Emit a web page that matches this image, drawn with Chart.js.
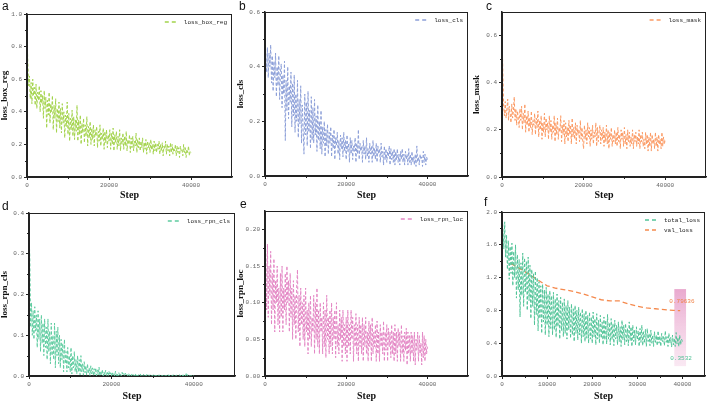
<!DOCTYPE html>
<html>
<head>
<meta charset="utf-8">
<script src="https://cdn.jsdelivr.net/npm/chart.js@4.4.1/dist/chart.umd.min.js"></script>
<style>
body { margin: 0; background: #fff; width: 709px; height: 401px; position: relative; overflow: hidden; }
canvas { position: absolute; }
.tag { position: absolute; font-family: 'Liberation Sans', Arial, sans-serif; font-size: 12px; color: #111; line-height: 1; }
</style>
</head>
<body>
<canvas id="cA" width="236" height="200" style="left:0;top:0"></canvas>
<canvas id="cB" width="236" height="200" style="left:236px;top:0"></canvas>
<canvas id="cC" width="237" height="200" style="left:472px;top:0"></canvas>
<canvas id="cD" width="236" height="201" style="left:0;top:200px"></canvas>
<canvas id="cE" width="236" height="201" style="left:236px;top:200px"></canvas>
<canvas id="cF" width="237" height="201" style="left:472px;top:200px"></canvas>
<div class="tag" style="left:2px;top:0">a</div>
<div class="tag" style="left:239px;top:0">b</div>
<div class="tag" style="left:486px;top:0">c</div>
<div class="tag" style="left:2px;top:200px">d</div>
<div class="tag" style="left:240px;top:198px">e</div>
<div class="tag" style="left:484px;top:196px">f</div>
<script>
// logged every 200 steps, step 0 .. 40000 (20 values per row = 4000 steps)
var STEP = 200;

var lossBoxReg = [
  0.88,0.70,0.56,0.62,0.48,0.58,0.45,0.60,0.50,0.55,0.44,0.57,0.42,0.52,0.47,0.56,0.40,0.53,0.45,0.50,
  0.36,0.53,0.42,0.49,0.30,0.47,0.38,0.52,0.33,0.45,0.40,0.50,0.29,0.44,0.36,0.48,0.27,0.42,0.34,0.46,
  0.30,0.42,0.27,0.45,0.33,0.40,0.24,0.38,0.31,0.46,0.26,0.39,0.22,0.36,0.29,0.41,0.25,0.37,0.23,0.35,
  0.28,0.44,0.22,0.35,0.26,0.38,0.20,0.33,0.27,0.36,0.21,0.32,0.25,0.37,0.19,0.31,0.24,0.34,0.20,0.30,
  0.23,0.32,0.19,0.29,0.25,0.31,0.18,0.28,0.22,0.32,0.19,0.27,0.23,0.30,0.17,0.28,0.21,0.29,0.18,0.26,
  0.22,0.29,0.17,0.27,0.20,0.30,0.16,0.26,0.21,0.28,0.17,0.25,0.19,0.29,0.16,0.24,0.20,0.27,0.17,0.25,
  0.19,0.28,0.16,0.23,0.20,0.26,0.15,0.24,0.18,0.25,0.16,0.22,0.19,0.27,0.15,0.23,0.18,0.24,0.16,0.22,
  0.18,0.24,0.15,0.21,0.17,0.23,0.14,0.22,0.18,0.21,0.15,0.23,0.17,0.20,0.14,0.22,0.16,0.21,0.15,0.20,
  0.17,0.22,0.14,0.20,0.16,0.21,0.13,0.19,0.17,0.22,0.14,0.20,0.16,0.19,0.13,0.21,0.15,0.20,0.14,0.18,
  0.16,0.20,0.13,0.19,0.15,0.18,0.12,0.19,0.16,0.17,0.13,0.20,0.15,0.18,0.12,0.17,0.15,0.19,0.13,0.16,
  0.15
];
var lossCls = [
  0.52,0.44,0.38,0.47,0.36,0.45,0.40,0.48,0.34,0.44,0.31,0.42,0.36,0.45,0.29,0.40,0.33,0.44,0.28,0.38,
  0.41,0.25,0.37,0.30,0.42,0.13,0.35,0.24,0.40,0.21,0.33,0.27,0.38,0.18,0.34,0.22,0.37,0.16,0.30,0.20,
  0.35,0.14,0.28,0.19,0.33,0.12,0.26,0.17,0.08,0.30,0.15,0.27,0.11,0.31,0.16,0.24,0.10,0.29,0.13,0.25,
  0.12,0.28,0.15,0.22,0.09,0.26,0.13,0.20,0.10,0.24,0.08,0.18,0.12,0.20,0.07,0.17,0.11,0.19,0.08,0.16,
  0.12,0.18,0.07,0.15,0.10,0.17,0.06,0.14,0.11,0.16,0.08,0.13,0.06,0.15,0.10,0.14,0.07,0.16,0.09,0.13,
  0.06,0.15,0.09,0.12,0.05,0.14,0.08,0.13,0.06,0.11,0.09,0.14,0.05,0.12,0.08,0.17,0.06,0.12,0.09,0.11,
  0.05,0.13,0.08,0.11,0.06,0.14,0.07,0.10,0.05,0.12,0.08,0.11,0.05,0.13,0.07,0.10,0.06,0.12,0.05,0.11,
  0.08,0.10,0.05,0.12,0.07,0.09,0.04,0.11,0.06,0.10,0.05,0.09,0.07,0.11,0.04,0.10,0.06,0.09,0.05,0.10,
  0.04,0.09,0.06,0.10,0.05,0.08,0.04,0.09,0.06,0.10,0.05,0.08,0.04,0.09,0.06,0.08,0.04,0.10,0.05,0.08,
  0.04,0.09,0.05,0.07,0.04,0.08,0.035,0.11,0.05,0.07,0.04,0.08,0.06,0.07,0.035,0.09,0.05,0.08,0.04,0.07,
  0.06
];
var lossMask = [
  0.63,0.45,0.30,0.26,0.32,0.25,0.29,0.33,0.24,0.30,0.27,0.23,0.31,0.25,0.28,0.34,0.24,0.29,0.22,0.28,
  0.25,0.21,0.29,0.24,0.30,0.20,0.27,0.23,0.31,0.19,0.26,0.22,0.28,0.19,0.25,0.21,0.28,0.18,0.24,0.22,
  0.27,0.18,0.25,0.21,0.28,0.17,0.24,0.20,0.26,0.16,0.23,0.19,0.27,0.17,0.25,0.20,0.23,0.16,0.26,0.19,
  0.24,0.16,0.22,0.19,0.26,0.15,0.23,0.18,0.25,0.16,0.21,0.19,0.26,0.15,0.22,0.18,0.24,0.14,0.23,0.17,
  0.21,0.15,0.24,0.18,0.22,0.14,0.25,0.17,0.21,0.16,0.23,0.14,0.22,0.18,0.20,0.15,0.24,0.16,0.21,0.15,
  0.12,0.22,0.16,0.20,0.14,0.23,0.17,0.21,0.13,0.20,0.16,0.22,0.14,0.19,0.17,0.23,0.13,0.21,0.15,0.19,
  0.22,0.14,0.20,0.16,0.21,0.13,0.19,0.15,0.22,0.14,0.20,0.12,0.19,0.16,0.21,0.13,0.18,0.15,0.20,0.14,
  0.19,0.13,0.21,0.15,0.18,0.12,0.20,0.16,0.19,0.13,0.21,0.14,0.18,0.12,0.20,0.15,0.19,0.13,0.17,0.14,
  0.20,0.12,0.18,0.15,0.19,0.13,0.17,0.14,0.20,0.12,0.18,0.15,0.19,0.13,0.16,0.12,0.19,0.14,0.18,0.11,
  0.17,0.13,0.19,0.11,0.18,0.14,0.16,0.12,0.19,0.13,0.17,0.11,0.18,0.14,0.16,0.12,0.19,0.13,0.17,0.14,
  0.16
];
var lossRpnCls = [
  0.35,0.29,0.12,0.18,0.10,0.16,0.09,0.17,0.11,0.15,0.07,0.16,0.09,0.14,0.06,0.15,0.08,0.13,0.05,0.14,
  0.07,0.12,0.04,0.14,0.06,0.11,0.03,0.13,0.05,0.10,0.04,0.13,0.02,0.11,0.05,0.12,0.03,0.10,0.02,0.09,
  0.04,0.08,0.01,0.09,0.03,0.06,0.01,0.07,0.02,0.05,0.01,0.07,0.005,0.05,0.02,0.06,0.01,0.04,0.005,0.05,
  0.01,0.04,0.003,0.05,0.01,0.03,0.002,0.035,0.008,0.025,0.002,0.03,0.006,0.02,0.001,0.025,0.005,0.02,0.001,0.018,
  0.004,0.02,0.001,0.015,0.003,0.022,0.0,0.012,0.002,0.016,0.0,0.01,0.003,0.014,0.001,0.009,0.0,0.012,0.002,0.008,
  0.0,0.01,0.002,0.007,0.0,0.012,0.001,0.006,0.0,0.008,0.001,0.005,0.0,0.009,0.002,0.006,0.0,0.007,0.001,0.004,
  0.0,0.006,0.001,0.004,0.0,0.005,0.0,0.003,0.001,0.006,0.0,0.004,0.0,0.003,0.001,0.005,0.0,0.002,0.0,0.004,
  0.001,0.003,0.0,0.004,0.0,0.002,0.001,0.003,0.0,0.002,0.0,0.004,0.001,0.002,0.0,0.003,0.0,0.002,0.001,0.003,
  0.0,0.002,0.0,0.003,0.001,0.002,0.0,0.002,0.0,0.003,0.0,0.002,0.001,0.002,0.0,0.003,0.0,0.001,0.0,0.002,
  0.0,0.002,0.001,0.003,0.0,0.002,0.0,0.003,0.0,0.002,0.0,0.008,0.001,0.003,0.0,0.002,0.0,0.001,0.0,0.002,
  0.001
];
var lossRpnLoc = [
  0.195,0.16,0.09,0.18,0.08,0.15,0.11,0.17,0.07,0.14,0.09,0.16,0.06,0.13,0.10,0.15,0.07,0.12,0.06,0.14,
  0.08,0.15,0.06,0.12,0.09,0.14,0.07,0.15,0.10,0.13,0.06,0.14,0.08,0.12,0.05,0.13,0.07,0.11,0.05,0.12,
  0.145,0.06,0.11,0.04,0.12,0.07,0.10,0.05,0.11,0.04,0.12,0.06,0.09,0.03,0.10,0.05,0.11,0.04,0.08,0.06,
  0.11,0.03,0.10,0.05,0.12,0.04,0.09,0.03,0.10,0.06,0.08,0.03,0.10,0.04,0.09,0.025,0.11,0.05,0.08,0.03,
  0.09,0.04,0.10,0.03,0.08,0.05,0.09,0.025,0.10,0.04,0.07,0.03,0.09,0.05,0.08,0.02,0.09,0.04,0.07,0.03,
  0.08,0.02,0.09,0.04,0.07,0.03,0.09,0.05,0.08,0.02,0.07,0.04,0.085,0.03,0.07,0.02,0.08,0.04,0.07,0.03,
  0.08,0.02,0.07,0.04,0.08,0.03,0.06,0.02,0.075,0.04,0.07,0.02,0.08,0.03,0.06,0.04,0.07,0.02,0.075,0.03,
  0.06,0.02,0.07,0.04,0.06,0.03,0.075,0.02,0.06,0.035,0.07,0.02,0.065,0.04,0.06,0.025,0.07,0.03,0.06,0.02,
  0.07,0.03,0.06,0.02,0.065,0.04,0.06,0.02,0.07,0.03,0.055,0.02,0.06,0.035,0.065,0.015,0.06,0.03,0.055,0.02,
  0.06,0.03,0.055,0.02,0.06,0.015,0.05,0.035,0.06,0.02,0.055,0.03,0.045,0.015,0.06,0.025,0.055,0.02,0.05,0.03,
  0.04
];
var totalLoss = [
  1.98,1.80,1.55,1.88,1.45,1.72,1.30,1.65,1.18,1.58,1.25,1.62,1.10,1.52,1.20,1.60,0.95,1.48,1.05,1.42,
  0.72,1.38,0.98,1.50,0.85,1.44,1.02,1.40,0.80,1.45,0.92,1.35,0.70,1.30,0.85,1.25,0.62,1.28,0.75,1.20,
  0.55,1.15,0.70,1.10,0.52,1.12,0.66,1.05,0.50,1.08,0.62,1.00,0.48,1.04,0.58,0.98,0.50,1.02,0.56,0.94,
  0.47,1.00,0.60,0.92,0.45,0.96,0.55,0.90,0.48,0.94,0.52,0.86,0.45,0.92,0.56,0.84,0.46,0.88,0.50,0.82,
  0.42,0.86,0.52,0.80,0.44,0.84,0.50,0.78,0.40,0.82,0.48,0.76,0.42,0.80,0.46,0.74,0.40,0.78,0.45,0.72,
  0.40,0.78,0.48,0.70,0.38,0.76,0.45,0.68,0.40,0.74,0.46,0.66,0.38,0.72,0.44,0.68,0.39,0.75,0.45,0.65,
  0.38,0.70,0.44,0.64,0.37,0.68,0.45,0.62,0.38,0.66,0.42,0.60,0.36,0.68,0.44,0.62,0.38,0.64,0.42,0.58,
  0.37,0.66,0.43,0.60,0.36,0.62,0.42,0.56,0.38,0.60,0.44,0.55,0.36,0.58,0.41,0.62,0.37,0.54,0.40,0.57,
  0.36,0.58,0.42,0.52,0.37,0.56,0.40,0.50,0.36,0.54,0.41,0.50,0.37,0.55,0.40,0.49,0.36,0.52,0.42,0.48,
  0.37,0.55,0.41,0.48,0.36,0.52,0.40,0.47,0.3532,0.50,0.38,0.46,0.36,0.53,0.39,0.47,0.36,0.50,0.38,0.45,
  0.42
];
var valSteps = [2000,4000,6000,8000,10000,12000,14000,16000,18000,20000,22000,24000,26000,28000,30000,32000,34000,36000,38000,39500];
var valLoss = [1.37,1.31,1.24,1.17,1.10,1.07,1.05,1.03,1.00,0.965,0.93,0.915,0.915,0.88,0.85,0.83,0.82,0.81,0.80,0.79636];

var xTicksWide = [0, 20000, 40000];
var xTicksF = [0, 10000, 20000, 30000, 40000];

var monoFont = "'Liberation Mono', 'DejaVu Sans Mono', monospace";
var serifFont = "'Liberation Serif', 'DejaVu Serif', serif";

function pts(vals) {
    return vals.map(function (v, i) { return { x: i * STEP, y: v }; });
}

// box frame, minor ticks and the little dashed legend
var framePlugin = {
    id: 'frame',
    afterDatasetsDraw: function (chart) {
        var ctx = chart.ctx, a = chart.chartArea;
        var xs = chart.scales.x, ys = chart.scales.y;
        ctx.save();
        ctx.strokeStyle = '#222';
        ctx.lineWidth = 1;
        ctx.setLineDash([]);
        ctx.strokeRect(a.left + 0.5, a.top + 0.5, a.right - a.left - 1, a.bottom - a.top);

        // minor ticks halfway between majors
        ctx.beginPath();
        for (var i = 0; i < xs.ticks.length - 1; i++) {
            var px = Math.round(xs.getPixelForValue((xs.ticks[i].value + xs.ticks[i + 1].value) / 2)) + 0.5;
            ctx.moveTo(px, a.bottom);
            ctx.lineTo(px, a.bottom + 2);
        }
        for (var j = 0; j < ys.ticks.length - 1; j++) {
            var py = Math.round(ys.getPixelForValue((ys.ticks[j].value + ys.ticks[j + 1].value) / 2)) + 0.5;
            ctx.moveTo(a.left, py);
            ctx.lineTo(a.left - 2, py);
        }
        ctx.stroke();

        // legend
        ctx.font = '6px ' + monoFont;
        ctx.textBaseline = 'middle';
        var sets = chart.data.datasets;
        var maxW = 0;
        sets.forEach(function (d) { maxW = Math.max(maxW, ctx.measureText(d.label).width); });
        var tx = a.right - 5 - maxW;
        sets.forEach(function (d, k) {
            var ly = a.top + 8 + k * 10;
            ctx.strokeStyle = d.borderColor;
            ctx.lineWidth = 1.3;
            ctx.setLineDash([4, 3]);
            ctx.beginPath();
            ctx.moveTo(tx - 19, ly);
            ctx.lineTo(tx - 7, ly);
            ctx.stroke();
            ctx.setLineDash([]);
            ctx.fillStyle = '#222';
            ctx.textAlign = 'left';
            ctx.fillText(d.label, tx, ly);
        });
        ctx.restore();
    }
};

// pink highlight band and the two end values in panel f
var markPlugin = {
    id: 'mark',
    beforeDatasetsDraw: function (chart) {
        var ctx = chart.ctx, xs = chart.scales.x, ys = chart.scales.y;
        var x1 = xs.getPixelForValue(38200), x2 = xs.getPixelForValue(40800);
        var y1 = ys.getPixelForValue(1.06), y2 = ys.getPixelForValue(0.12);
        var g = ctx.createLinearGradient(0, y1, 0, y2);
        g.addColorStop(0, 'rgba(226,140,190,0.75)');
        g.addColorStop(1, 'rgba(240,190,220,0.35)');
        ctx.save();
        ctx.fillStyle = g;
        ctx.fillRect(x1, y1, x2 - x1, y2 - y1);
        ctx.restore();
    },
    afterDatasetsDraw: function (chart) {
        var ctx = chart.ctx, xs = chart.scales.x, ys = chart.scales.y;
        ctx.save();
        ctx.font = '6px ' + monoFont;
        ctx.textBaseline = 'middle';
        ctx.textAlign = 'left';
        ctx.fillStyle = '#f0834a';
        ctx.fillText(String(valLoss[valLoss.length - 1]), xs.getPixelForValue(37100), ys.getPixelForValue(0.905));
        ctx.fillStyle = '#4dbf93';
        ctx.fillText(String(Math.min.apply(null, totalLoss)), xs.getPixelForValue(37300), ys.getPixelForValue(0.215));
        ctx.restore();
    }
};

function makePanel(id, p) {
    return new Chart(document.getElementById(id), {
        type: 'line',
        data: {
            datasets: p.series.map(function (s) {
                return {
                    label: s.label,
                    data: s.data,
                    borderColor: s.color,
                    borderWidth: s.width || 1,
                    borderDash: s.dash || [3, 2],
                    pointRadius: 0,
                    fill: false,
                    tension: 0
                };
            })
        },
        options: {
            responsive: false,
            animation: false,
            devicePixelRatio: 1,
            layout: { padding: { top: p.padTop, right: p.padRight, bottom: 0, left: 0 } },
            plugins: { legend: { display: false }, tooltip: { enabled: false } },
            scales: {
                x: {
                    type: 'linear',
                    min: 0,
                    max: p.xMax,
                    afterBuildTicks: function (s) { s.ticks = p.xTicks.map(function (v) { return { value: v }; }); },
                    afterFit: function (s) { s.height = p.xH; },
                    grid: { drawOnChartArea: false, tickLength: 3, color: '#222' },
                    border: { color: '#222', width: 1.5 },
                    ticks: {
                        font: { family: monoFont, size: 6 },
                        color: '#666',
                        padding: 2,
                        maxRotation: 0,
                        autoSkip: false,
                        callback: function (v) { return String(v); }
                    },
                    title: {
                        display: true,
                        text: 'Step',
                        color: '#111',
                        padding: 0,
                        font: { family: serifFont, size: 10, weight: 'bold', lineHeight: 1 }
                    }
                },
                y: {
                    min: 0,
                    max: p.yMax,
                    afterBuildTicks: function (s) { s.ticks = p.yTicks.map(function (v) { return { value: v }; }); },
                    afterFit: function (s) { s.width = p.yW; },
                    grid: { drawOnChartArea: false, tickLength: 3, color: '#222' },
                    border: { color: '#222', width: 1.5 },
                    ticks: {
                        font: { family: monoFont, size: 6 },
                        color: '#666',
                        padding: 2,
                        callback: function (v) { return v.toFixed(p.yDec); }
                    },
                    title: {
                        display: p.yTitle !== '',
                        text: p.yTitle,
                        color: '#111',
                        padding: 0,
                        font: { family: serifFont, size: 9, weight: 'bold', lineHeight: 1 }
                    }
                }
            }
        },
        plugins: p.extra ? [framePlugin, p.extra] : [framePlugin]
    });
}

makePanel('cA', {
    series: [{ label: 'loss_box_reg', data: pts(lossBoxReg), color: '#a3d34c' }],
    yTitle: 'loss_box_reg', yMax: 1.0, yTicks: [0, 0.2, 0.4, 0.6, 0.8, 1.0], yDec: 1,
    xMax: 50000, xTicks: xTicksWide, yW: 27, xH: 23, padTop: 14, padRight: 4
});
makePanel('cB', {
    series: [{ label: 'loss_cls', data: pts(lossCls), color: '#8c9fd8' }],
    yTitle: 'loss_cls', yMax: 0.6, yTicks: [0, 0.2, 0.4, 0.6], yDec: 1,
    xMax: 50000, xTicks: xTicksWide, yW: 29, xH: 24, padTop: 12, padRight: 4
});
makePanel('cC', {
    series: [{ label: 'loss_mask', data: pts(lossMask), color: '#fb9a64' }],
    yTitle: 'loss_mask', yMax: 0.7, yTicks: [0, 0.2, 0.4, 0.6], yDec: 1,
    xMax: 50000, xTicks: xTicksWide, yW: 30, xH: 23, padTop: 12, padRight: 3
});
makePanel('cD', {
    series: [{ label: 'loss_rpn_cls', data: pts(lossRpnCls), color: '#5fcca0' }],
    yTitle: 'loss_rpn_cls', yMax: 0.4, yTicks: [0, 0.1, 0.2, 0.3, 0.4], yDec: 1,
    xMax: 50000, xTicks: xTicksWide, yW: 29, xH: 25, padTop: 13, padRight: 1
});
makePanel('cE', {
    series: [{ label: 'loss_rpn_loc', data: pts(lossRpnLoc), color: '#e386c4' }],
    yTitle: 'loss_rpn_loc', yMax: 0.225, yTicks: [0, 0.05, 0.10, 0.15, 0.20], yDec: 2,
    xMax: 50000, xTicks: xTicksWide, yW: 29, xH: 25, padTop: 11, padRight: 4
});
makePanel('cF', {
    series: [
        { label: 'total_loss', data: pts(totalLoss), color: '#52c498' },
        { label: 'val_loss', data: valSteps.map(function (s, i) { return { x: s, y: valLoss[i] }; }), color: '#f58a4e', width: 1.3, dash: [5, 3] }
    ],
    yTitle: '', yMax: 2.0, yTicks: [0, 0.4, 0.8, 1.2, 1.6, 2.0], yDec: 1,
    xMax: 45000, xTicks: xTicksF, yW: 30, xH: 25, padTop: 12, padRight: 4,
    extra: markPlugin
});
</script>
</body>
</html>
